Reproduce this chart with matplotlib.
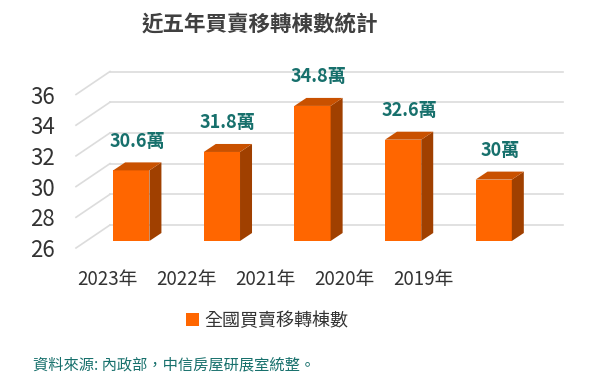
import numpy as np
import matplotlib
matplotlib.use("Agg")
import matplotlib.pyplot as plt
from matplotlib.transforms import ScaledTranslation

plt.rcParams["font.family"] = ["Noto Sans CJK TC", "DejaVu Sans"]

years = ["2023年", "2022年", "2021年", "2020年", "2019年"]
counts = [30.6, 31.8, 34.8, 32.6, 30.0]   # 萬棟
series_name = "全國買賣移轉棟數"
title = "近五年買賣移轉棟數統計"
source = "資料來源: 內政部，中信房屋研展室統整。"
yticks = [26, 28, 30, 32, 34, 36]

FRONT, TOP, SIDE = "#FF6600", "#C95100", "#A04000"
TEAL, GRID, DARK = "#17706C", "#DCDCDC", "#404040"

W, H = 600, 385
fig = plt.figure(figsize=(W / 100, H / 100), dpi=100)

def px(x0, y0, x1, y1):
    # pixel box (top-left origin) -> figure fraction rect
    return [x0 / W, 1 - y1 / H, (x1 - x0) / W, (y1 - y0) / H]

ax = fig.add_axes(px(86, 87.5, 539, 241))
ax.set_xlim(-0.5, 4.5)
ax.set_ylim(26, 36)
for s in ax.spines.values():
    s.set_visible(False)

xu = 453 / 5.0          # pixels per category
yu = 153.5 / 10.0       # pixels per value unit
bx, by = 24 / xu, 16 / yu      # back wall offset
fx, fy = -10 / xu, -7 / yu     # front edge offset
dx, dy = 12 / xu, 8 / yu       # bar depth
bw = 0.4

# back wall gridlines + side wall diagonals
for g in yticks:
    ax.plot([-0.5 + bx, 4.5 + bx], [g + by, g + by], color=GRID, lw=1.2,
            clip_on=False, zorder=0)
    ax.plot([-0.5 + fx, -0.5 + bx], [g + fy, g + by], color=GRID, lw=1.2,
            clip_on=False, zorder=0)

x = np.arange(len(years))
vals = np.array(counts)
ax.bar(x, vals - 26, bottom=26, width=bw, color=FRONT, zorder=3,
       label=series_name)
for xi, v in zip(x, vals):
    x0, x1 = xi - bw / 2, xi + bw / 2
    ax.fill([x1, x1 + dx, x1 + dx, x1], [26, 26 + dy, v + dy, v],
            color=SIDE, zorder=3, clip_on=False, lw=0)
    ax.fill([x0, x0 + dx, x1 + dx, x1], [v, v + dy, v + dy, v],
            color=TOP, zorder=3, clip_on=False, lw=0)
    ax.text(xi + dx / 2, v + 1.9, f"{v:g}萬", ha="center", va="center",
            fontsize=13, fontweight="bold", color=TEAL, clip_on=False)

ax.set_xticks([])
ax.set_yticks(yticks)
ax.tick_params(axis="y", length=0, pad=0, labelsize=16, labelcolor="#333333")
shift = ScaledTranslation(-0.31, -0.07, fig.dpi_scale_trans)
for lab in ax.get_yticklabels():
    lab.set_transform(lab.get_transform() + shift)

# category labels sit on the front edge, drawn on their own axis
ax2 = fig.add_axes(px(67.5, 268, 462.5, 269))
ax2.set_xlim(-0.5, 4.5)
ax2.set_xticks(x)
ax2.set_xticklabels(years)
ax2.set_yticks([])
ax2.tick_params(axis="x", length=0, pad=0, labelsize=13.5, labelcolor="#333333")
for s in ax2.spines.values():
    s.set_visible(False)
ax2.patch.set_visible(False)

fig.text(260 / W, 1 - 25 / H, title, ha="center", va="center", fontsize=15.5,
         fontweight="bold", color=DARK)
fig.legend(loc="center", bbox_to_anchor=(267 / W, 1 - 321 / H), frameon=False,
           fontsize=13, handlelength=0.7, handleheight=0.7, handletextpad=0.3,
           labelcolor="#333333")
fig.text(33 / W, 1 - 365 / H, source, ha="left", va="center", fontsize=11,
         color=TEAL)

fig.savefig("out.png", dpi=100)
